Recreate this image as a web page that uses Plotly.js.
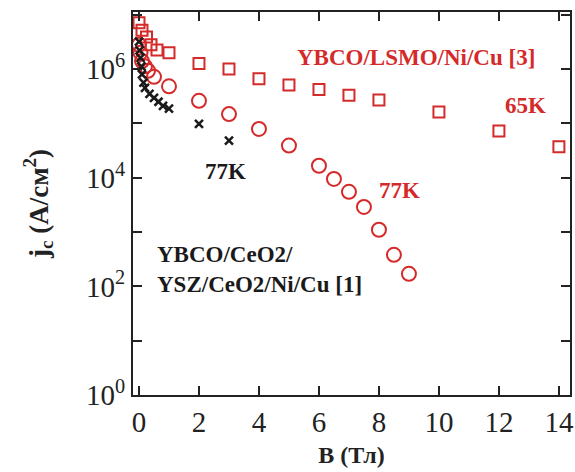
<!DOCTYPE html>
<html>
<head>
<meta charset="utf-8">
<script src="https://cdn.plot.ly/plotly-3.0.1.min.js"></script>
<style>html,body{margin:0;padding:0;background:#fff;}</style>
</head>
<body>
<div id="chart" style="width:575px;height:472px;"></div>
<script>
// YBCO/LSMO/Ni/Cu [3], 65K (squares)
const sqB  = [0, 0.1, 0.25, 0.4, 0.6, 1, 2, 3, 4, 5, 6, 7, 8, 10, 12, 14];
const sqJc = [7.1e6, 5.2e6, 3.9e6, 2.8e6, 2.24e6, 2.0e6, 1.26e6, 1.0e6, 6.6e5, 5.1e5, 4.2e5, 3.3e5, 2.7e5, 1.62e5, 7.2e4, 3.7e4];

// YBCO/LSMO/Ni/Cu [3], 77K (circles)
const ciB  = [0, 0.05, 0.1, 0.2, 0.3, 0.5, 1, 2, 3, 4, 5, 6, 6.5, 7, 7.5, 8, 8.5, 9];
const ciJc = [2.8e6, 2.0e6, 1.4e6, 1.12e6, 9.3e5, 7.2e5, 4.8e5, 2.6e5, 1.48e5, 7.9e4, 3.9e4, 1.66e4, 9.5e3, 5.5e3, 2.9e3, 1.1e3, 3.8e2, 1.7e2];

// YBCO/CeO2/YSZ/CeO2/Ni/Cu [1], 77K (crosses)
const crB  = [0, 0.02, 0.05, 0.08, 0.1, 0.15, 0.2, 0.35, 0.5, 0.65, 0.8, 1, 2, 3];
const crJc = [3.2e6, 2.2e6, 1.6e6, 1.12e6, 8.0e5, 5.6e5, 4.5e5, 3.5e5, 2.95e5, 2.5e5, 2.1e5, 1.86e5, 9.8e4, 4.8e4];

// axis ticks
const xTicks = [0, 2, 4, 6, 8, 10, 12, 14];
const yTickVals = [1, 10, 100, 1e3, 1e4, 1e5, 1e6, 1e7];
const yTickText = ['10<sup>0</sup>', '', '10<sup>2</sup>', '', '10<sup>4</sup>', '', '10<sup>6</sup>', ''];

const RED = '#d42a2a';
const BLK = '#1a1a1a';
const FONT = 'Liberation Serif, Times New Roman, serif';

const traces = [
  {x: sqB, y: sqJc, mode: 'markers', type: 'scatter',
   marker: {symbol: 'square-open', size: 11, color: RED, line: {width: 2, color: RED}}},
  {x: ciB, y: ciJc, mode: 'markers', type: 'scatter',
   marker: {symbol: 'circle-open', size: 14, color: RED, line: {width: 2, color: RED}}},
  {x: crB, y: crJc, mode: 'markers', type: 'scatter',
   marker: {symbol: 'x-thin', size: 8, color: BLK, line: {width: 2.5, color: BLK}}}
];

const axisCommon = {
  showline: true, linewidth: 2, linecolor: '#222', mirror: 'ticks',
  ticks: 'inside', ticklen: 9, tickwidth: 2, tickcolor: '#222',
  showgrid: false, zeroline: false,
  tickfont: {family: FONT, size: 29, color: '#222'}
};

const layout = {
  width: 575, height: 472,
  margin: {l: 133, r: 5, t: 12, b: 77},
  paper_bgcolor: '#fff', plot_bgcolor: '#fff',
  showlegend: false,
  xaxis: Object.assign({}, axisCommon, {
    range: [-0.2, 14.37], tickvals: xTicks,
    title: {text: '<b>B (Тл)</b>', font: {family: FONT, size: 24, color: '#222'}, standoff: 9}
  }),
  yaxis: Object.assign({}, axisCommon, {
    type: 'log', range: [0, 7.05], tickvals: yTickVals, ticktext: yTickText,
    title: {text: '<b>j<sub>c</sub> (A/см<sup>2</sup>)</b>', font: {family: FONT, size: 27, color: '#222'}, standoff: 30}
  }),
  annotations: [
    {x: 9.23, y: 6.22, xref: 'x', yref: 'y', text: '<b>YBCO/LSMO/Ni/Cu [3]</b>', showarrow: false,
     font: {family: FONT, size: 23, color: RED}},
    {x: 12.9, y: 5.32, xref: 'x', yref: 'y', text: '<b>65K</b>', showarrow: false,
     font: {family: FONT, size: 23, color: RED}},
    {x: 8.7, y: 3.76, xref: 'x', yref: 'y', text: '<b>77K</b>', showarrow: false,
     font: {family: FONT, size: 23, color: RED}},
    {x: 2.87, y: 4.11, xref: 'x', yref: 'y', text: '<b>77K</b>', showarrow: false,
     font: {family: FONT, size: 23, color: BLK}},
    {x: 0.55, y: 2.31, xref: 'x', yref: 'y', xanchor: 'left', align: 'left',
     text: '<b>YBCO/CeO2/<br>YSZ/CeO2/Ni/Cu [1]</b>', showarrow: false,
     font: {family: FONT, size: 23, color: BLK}}
  ]
};

Plotly.newPlot('chart', traces, layout, {displayModeBar: false, staticPlot: true});
</script>
</body>
</html>
